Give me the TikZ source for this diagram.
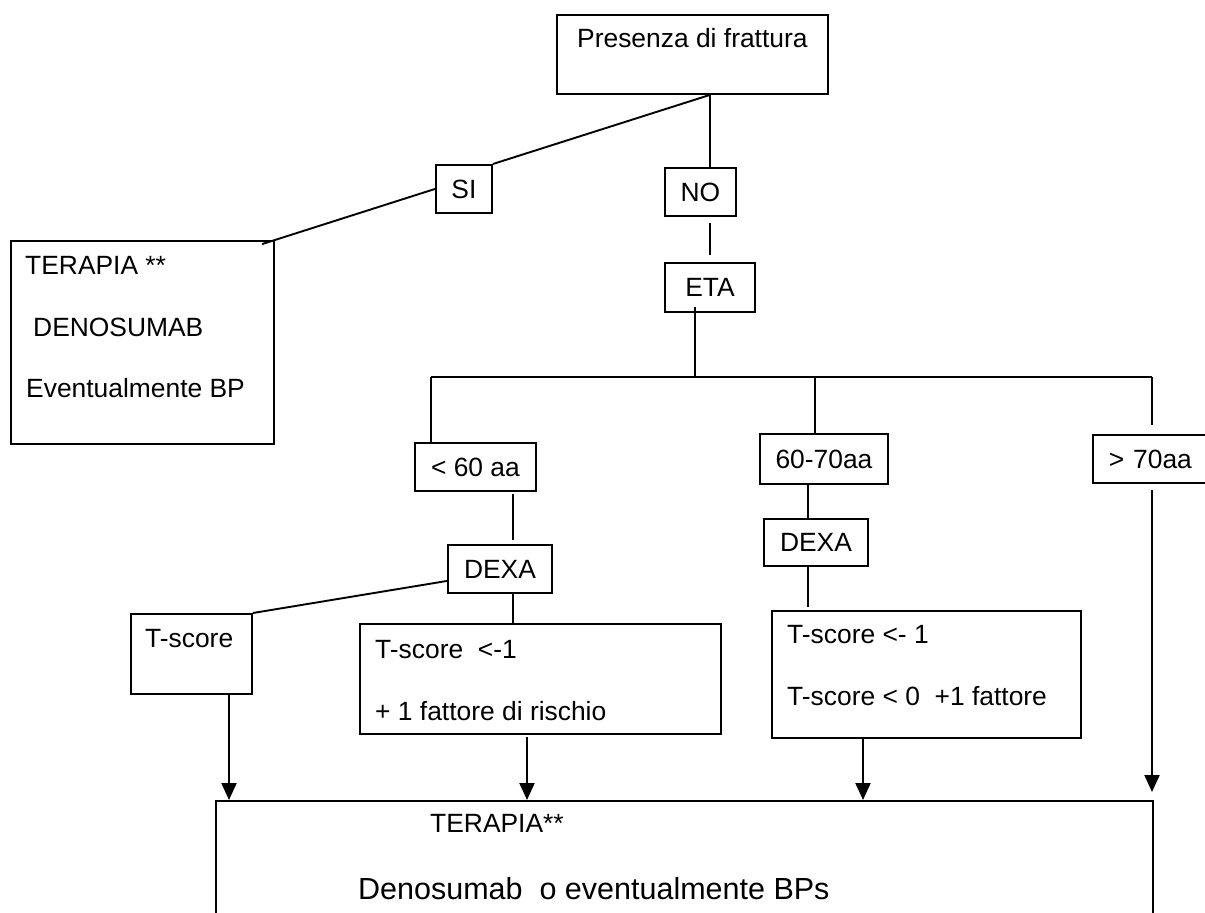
\documentclass[tikz,border=0pt]{standalone}
\usepackage{fontspec}
\setmainfont{Liberation Sans}
\usetikzlibrary{arrows.meta,calc}
\begin{document}
\begin{tikzpicture}[x=1pt,y=-1pt,
  every node/.style={font=\fontsize{26.4}{30}\selectfont},
  box/.style={draw, line width=1.9pt, inner sep=0pt, anchor=north west},
  txt/.style={anchor=base west, inner sep=0pt},
  con/.style={line width=1.9pt},
  arr/.style={line width=2.2pt, -{Triangle[width=15pt,length=17pt]}}]
\useasboundingbox (0,0) rectangle (1205,913);
\clip (0,0) rectangle (1205,913);
% boxes
\node[box, minimum width=271pt, minimum height=79pt] (top) at (556,14) {};
\node[txt] (topT) at (577,47) {Presenza di frattura};
\node[box, minimum width=56pt, minimum height=48pt] (si) at (435,164) {SI};
\node[box, minimum width=71pt, minimum height=48pt] (no) at (664,167) {NO};
\node[box, minimum width=90pt, minimum height=49pt] (eta) at (664,262) {ETA};
\node[box, minimum width=263pt, minimum height=203pt] (left) at (10,240) {};
\node[txt] (leftT1) at (25,274) {TERAPIA **};
\node[txt] (leftT2) at (33,336) {DENOSUMAB};
\node[txt] (leftT3) at (26,397) {Eventualmente BP};
\node[box, minimum width=121pt, minimum height=48pt] (lt60) at (414,442) {< 60 aa};
\node[box, minimum width=128pt, minimum height=50pt] (m6070) at (759,433) {60-70aa};
\node[box, minimum height=48pt, inner xsep=16pt, text width=110pt, align=left] (gt70) at (1092,434) {> 70aa};
\node[box, minimum width=104pt, minimum height=48pt] (dexa1) at (447,544) {DEXA};
\node[box, minimum width=104pt, minimum height=47pt] (dexa2) at (763,518) {DEXA};
\node[box, minimum width=121pt, minimum height=80pt] (ts0) at (130,613) {};
\node[txt] (ts0T) at (145,647) {T-score};
\node[box, minimum width=361pt, minimum height=110pt] (ts1) at (359,623) {};
\node[txt] (ts1T1) at (375,658) {T-score\ \ <-1};
\node[txt] (ts1T2) at (375,720) {+ 1 fattore di rischio};
\node[box, minimum width=309pt, minimum height=127pt] (ts2) at (771,610) {};
\node[txt] (ts2T1) at (787,643) {T-score <- 1};
\node[txt] (ts2T2) at (787,705) {T-score < 0\ \ +1 fattore};
\node[box, minimum width=937pt, minimum height=200pt] (bottom) at (215,800) {};
\node[txt] (botT1) at (430,832) {TERAPIA**};
\node[txt, font=\fontsize{30.5}{34}\selectfont] (botT2) at (358,899) {Denosumab\ \ o eventualmente BPs};
% helper coordinates
\coordinate (vx) at ($(top.south)+(17.5,0)$);
\coordinate (jE) at (695,377);
\coordinate (jL) at (431,377);
\coordinate (jM) at (815,377);
\coordinate (jR) at (1152,377);
\coordinate (c1) at (513,0);
\coordinate (c2) at (808,0);
\coordinate (a1) at (229,0);
\coordinate (a2) at (527,0);
\coordinate (a3) at (863,0);
% connectors
\draw[con] (vx) -- (si.north east);
\draw[con] (si.west) -- ($(si.west)!1.08!(left.north east)$);
\draw[con] (vx) -- (vx |- no.north);
\draw[con] ($(no.south -| vx)+(0,6)$) -- ($(eta.north -| vx)+(0,-7)$);
\draw[con] ($(eta.south -| jE)+(0,-6)$) -- (jE);
\draw[con] (jL) -- (jR);
\draw[con] (jL) -- (jL |- lt60.north);
\draw[con] (jM) -- (jM |- m6070.north);
\draw[con] (jR) -- ($(jR |- gt70.north)+(0,-9)$);
\draw[con] ($(lt60.south -| c1)+(0,2)$) -- ($(dexa1.north -| c1)+(0,-4)$);
\draw[con] ($(dexa1.west)+(0,12)$) -- (ts0.north east);
\draw[con] (dexa1.south -| c1) -- (ts1.north -| c1);
\draw[con] (m6070.south -| c2) -- (dexa2.north -| c2);
\draw[con] (dexa2.south -| c2) -- ($(ts2.north -| c2)+(0,-3)$);
% arrows
\draw[arr] (ts0.south -| a1) -- (bottom.north -| a1);
\draw[arr] ($(ts1.south -| a2)+(0,2)$) -- (bottom.north -| a2);
\draw[arr] (ts2.south -| a3) -- (bottom.north -| a3);
\draw[arr] ($(gt70.south -| jR)+(0,6)$) -- ($(bottom.north -| jR)+(0,-8)$);
\end{tikzpicture}
\end{document}
